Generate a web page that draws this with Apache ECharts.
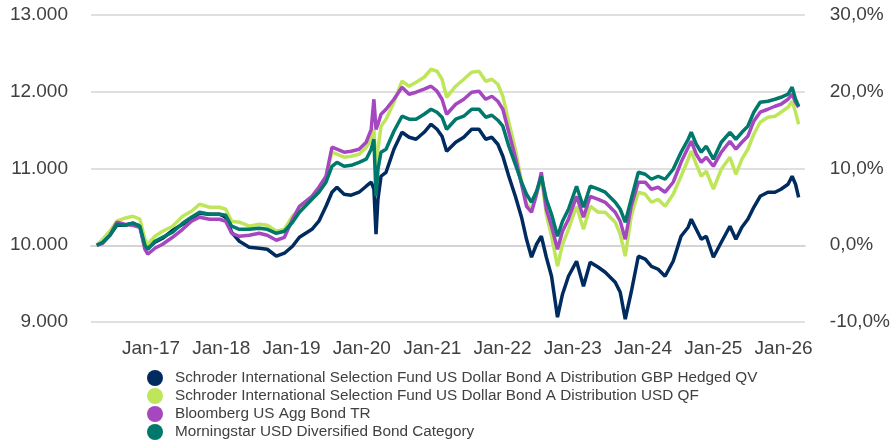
<!DOCTYPE html>
<html>
<head>
<meta charset="utf-8">
<script src="https://cdn.jsdelivr.net/npm/echarts@6/dist/echarts.min.js"></script>
<style>
html,body{margin:0;padding:0;background:#fff;}
#chart{width:893px;height:444px;}
</style>
</head>
<body>
<div id="chart"></div>
<script>
const dates = ['2016-03-25','2016-04-25','2016-06-01','2016-07-07','2016-08-17','2016-09-28','2016-11-04','2016-11-30','2016-12-15',
'2017-01-21','2017-03-02','2017-04-23','2017-06-14','2017-07-30','2017-09-10','2017-11-01','2017-12-23',
'2018-01-24','2018-02-24','2018-04-05','2018-05-26','2018-07-17','2018-08-28','2018-10-14','2018-11-25',
'2019-01-06','2019-02-11','2019-04-17','2019-05-23','2019-06-29','2019-07-30','2019-08-25','2019-10-01','2019-11-07','2019-12-18',
'2020-01-24','2020-02-19','2020-03-04','2020-03-15','2020-03-25','2020-04-10','2020-05-06','2020-06-16','2020-07-28','2020-09-03','2020-10-09','2020-11-20','2020-12-26',
'2021-01-26','2021-02-21','2021-03-17','2021-05-03','2021-06-14','2021-07-25','2021-09-01','2021-10-06','2021-11-07','2021-12-08',
'2022-01-03','2022-02-03','2022-03-09','2022-04-10','2022-05-06','2022-06-01','2022-06-27','2022-07-22','2022-08-17','2022-09-13','2022-10-14','2022-11-09','2022-12-10',
'2023-01-21','2023-02-26','2023-04-02','2023-05-14','2023-06-19','2023-08-10','2023-09-05','2023-10-01','2023-11-01','2023-12-08',
'2024-01-13','2024-02-14','2024-03-20','2024-04-25','2024-06-06','2024-07-17','2024-08-23','2024-09-08','2024-10-04','2024-10-30','2024-11-25',
'2025-01-01','2025-02-11','2025-03-28','2025-04-28','2025-05-29','2025-06-29','2025-07-30','2025-09-01','2025-10-11','2025-11-17','2025-12-18',
'2026-01-24','2026-02-14','2026-03-04','2026-03-20'];

const gbpHedged = [10000,10052,10130,10261,10261,10287,10248,9987,9961,
10039,10091,10195,10274,10352,10417,10404,10404,
10365,10169,10052,9974,9961,9948,9857,9896,
9987,10104,10208,10313,10508,10691,10756,10665,10652,10691,
10769,10821,10730,10143,10599,10899,10951,11251,11472,11407,11381,11472,11577,
11511,11420,11225,11342,11407,11511,11511,11381,11407,11316,
11160,10899,10638,10365,10078,9844,10013,10117,9844,9596,9062,9362,9596,
9792,9466,9778,9713,9648,9518,9388,9036,9388,9857,
9818,9726,9687,9596,9792,10117,10235,10339,10208,10078,10117,
9844,10039,10248,10078,10235,10339,10495,10638,10691,10691,10730,
10795,10899,10795,10625];

const usdQF = [10000,10078,10182,10313,10352,10378,10339,10078,10013,
10117,10182,10248,10378,10443,10534,10495,10495,
10469,10313,10300,10248,10274,10261,10182,10208,
10378,10469,10625,10730,10886,11212,11186,11147,11160,11186,
11277,11381,11511,10960,11251,11551,11642,11863,12137,12072,12124,12189,12293,
12267,12163,11928,12072,12163,12254,12267,12137,12163,12098,
11941,11603,11251,10834,10534,10469,10665,10886,10404,10117,9726,10013,10208,
10508,10208,10508,10430,10430,10300,10143,9857,10378,10691,
10665,10560,10599,10508,10665,10899,11121,11225,11055,10899,10964,
10730,10990,11147,10925,11121,11251,11446,11603,11668,11681,11733,
11798,11876,11733,11577];

const bbgAgg = [10000,10026,10130,10300,10274,10261,10235,9948,9883,
9961,10013,10104,10208,10313,10365,10339,10339,
10313,10156,10117,10130,10156,10130,10065,10104,
10339,10508,10638,10756,10899,11277,11251,11212,11225,11251,
11342,11511,11902,11511,11577,11707,11772,11902,12059,11968,11994,12033,12072,
12007,11902,11707,11837,11902,11994,12007,11902,11941,11876,
11772,11472,11147,10795,10508,10430,10665,10951,10469,10248,9948,10182,10339,
10638,10365,10638,10599,10560,10430,10313,10078,10508,10821,
10821,10730,10756,10691,10821,11081,11277,11355,11186,11081,11147,
11029,11212,11355,11251,11342,11420,11616,11733,11772,11811,11837,
11902,11968,11863,11798];

const msCategory = [10000,10039,10130,10274,10261,10287,10248,10000,9948,
10052,10104,10169,10287,10365,10430,10404,10404,
10391,10248,10208,10208,10222,10208,10156,10182,
10300,10430,10599,10691,10821,11029,11081,11029,11042,11081,
11121,11251,11381,10638,10990,11212,11251,11485,11681,11642,11642,11707,11772,
11733,11668,11511,11642,11681,11772,11772,11668,11694,11629,
11551,11290,11055,10821,10665,10560,10704,10899,10599,10404,10117,10313,10469,
10769,10495,10769,10730,10691,10560,10469,10300,10599,10951,
10925,10860,10899,10860,10990,11212,11381,11472,11316,11212,11290,
11121,11342,11472,11381,11472,11551,11733,11863,11876,11902,11928,
11968,12059,11902,11811];

const seriesNames = [
  'Schroder International Selection Fund US Dollar Bond A Distribution GBP Hedged QV',
  'Schroder International Selection Fund US Dollar Bond A Distribution USD QF',
  'Bloomberg US Agg Bond TR',
  'Morningstar USD Diversified Bond Category'
];
const seriesColors = ['#002b5f', '#bfe65a', '#a548c0', '#00786b'];
const leftTicks = [9000, 10000, 11000, 12000, 13000];
const rightTicks = [-10, 0, 10, 20, 30];
const xLabelYears = [2017, 2018, 2019, 2020, 2021, 2022, 2023, 2024, 2025, 2026];

const ts = s => Date.parse(s + 'T00:00:00Z');
const allValues = [gbpHedged, usdQF, bbgAgg, msCategory];

const chart = echarts.init(document.getElementById('chart'), null, {renderer: 'canvas'});
const labelFont = {color: '#404040', fontSize: 19, fontFamily: 'Liberation Sans, Arial, sans-serif'};

chart.setOption({
  animation: false,
  backgroundColor: '#ffffff',
  grid: {left: 91, right: 86, top: 15, bottom: 122},
  legend: {
    orient: 'vertical',
    left: 147,
    top: 370,
    padding: 0,
    itemWidth: 16,
    itemHeight: 16,
    itemGap: 2,
    icon: 'circle',
    data: seriesNames,
    textStyle: {color: '#404040', fontSize: 15.3, lineHeight: 16, padding: [0, 0, 0, 7], fontFamily: 'Liberation Sans, Arial, sans-serif'}
  },
  xAxis: {
    type: 'value',
    min: ts('2016-02-24'),
    max: ts('2026-04-21'),
    axisLine: {show: true, lineStyle: {color: '#d4d4d4', width: 2}},
    axisTick: {show: false},
    splitLine: {show: false},
    axisLabel: Object.assign({
      margin: 17,
      customValues: xLabelYears.map(y => ts(y + '-01-01')),
      formatter: v => 'Jan-' + String(new Date(v).getUTCFullYear()).slice(2)
    }, labelFont)
  },
  yAxis: [
    {
      type: 'value',
      min: leftTicks[0],
      max: leftTicks[leftTicks.length - 1],
      interval: 1000,
      axisLine: {show: false},
      axisTick: {show: false},
      splitLine: {lineStyle: {color: '#e0e0e0', width: 2}},
      axisLabel: Object.assign({
        margin: 23,
        formatter: v => (v / 1000).toFixed(3)
      }, labelFont)
    },
    {
      type: 'value',
      position: 'right',
      min: rightTicks[0],
      max: rightTicks[rightTicks.length - 1],
      interval: 10,
      axisLine: {show: false},
      axisTick: {show: false},
      splitLine: {show: false},
      axisLabel: Object.assign({
        margin: 25,
        formatter: v => v.toFixed(1).replace('.', ',') + '%'
      }, labelFont)
    }
  ],
  series: allValues.map((vals, i) => ({
    name: seriesNames[i],
    type: 'line',
    yAxisIndex: 0,
    showSymbol: false,
    symbol: 'circle',
    color: seriesColors[i],
    lineStyle: {width: 3.5, color: seriesColors[i]},
    data: dates.map((d, k) => [ts(d), vals[k]]),
    z: 2 + i
  }))
});
</script>
</body>
</html>
